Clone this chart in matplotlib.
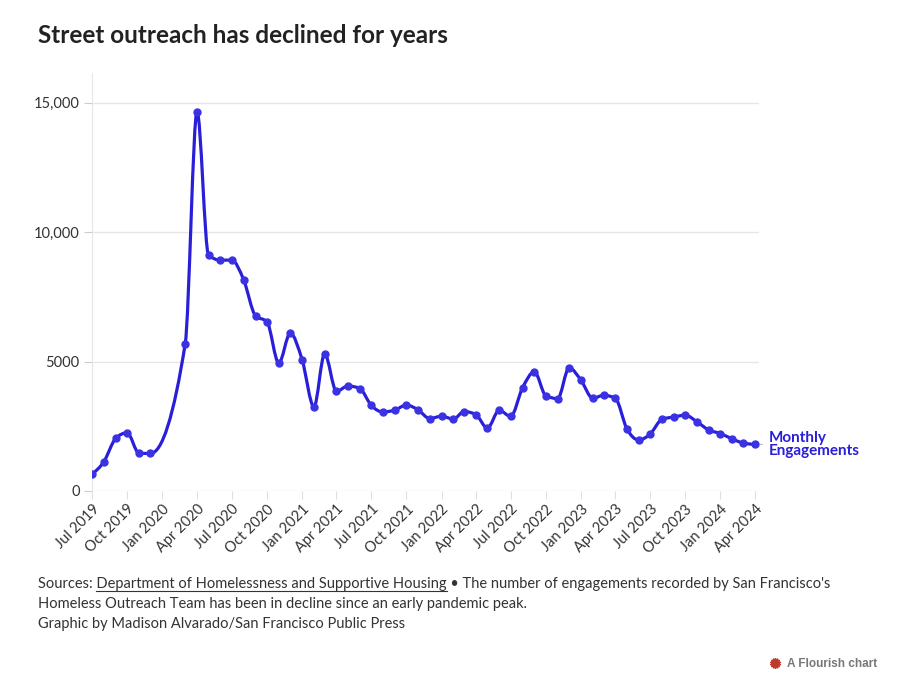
import matplotlib
matplotlib.use("Agg")
import matplotlib.pyplot as plt
import matplotlib.dates as mdates
from matplotlib.path import Path
from matplotlib.patches import PathPatch
from matplotlib.lines import Line2D
import numpy as np
import pandas as pd

# データ（月次エンゲージメント数、2020年1・2月は欠測）
months = pd.date_range("2019-07-01", "2024-04-01", freq="MS")
engagements = [
    650, 1130, 2030, 2250, 1460, 1450,
    np.nan, np.nan, 5690, 14660, 9120, 8920, 8920, 8160, 6770, 6540, 4940, 6100,
    5070, 3250, 5300, 3850, 4060, 3960, 3310, 3050, 3130, 3320, 3130, 2800,
    2890, 2780, 3070, 2950, 2430, 3120, 2880, 3990, 4610, 3680, 3570, 4760,
    4280, 3580, 3700, 3580, 2410, 1970, 2200, 2770, 2860, 2930, 2670, 2360,
    2220, 2010, 1850, 1800,
]
y_ticks = [0, 5000, 10000, 15000]
y_tick_labels = ["0", "5000", "10,000", "15,000"]

title = "Street outreach has declined for years"
series_name = "Monthly\nEngagements"
source_link = "Department of Homelessness and Supportive Housing"
footer_lines = [
    "Sources: " + source_link
    + " \u2022 The number of engagements recorded by San Francisco's",
    "Homeless Outreach Team has been in decline since an early pandemic peak.",
    "Graphic by Madison Alvarado/San Francisco Public Press",
]

LINE_COLOR = "#2a1fd9"
MARKER_COLOR = "#3b32e3"
TEXT_COLOR = "#333333"
FONT = ["Lato", "DejaVu Sans"]
FOOT_SIZE = 10.5


def monotone_path(x, y):
    """d3.curveMonotoneX と同じベジェ曲線パスを作る"""
    n = len(x)
    h = np.diff(x)
    s = np.diff(y) / h
    t = np.zeros(n)
    for i in range(1, n - 1):
        p = (s[i - 1] * h[i] + s[i] * h[i - 1]) / (h[i - 1] + h[i])
        t[i] = (np.sign(s[i - 1]) + np.sign(s[i])) * min(
            abs(s[i - 1]), abs(s[i]), 0.5 * abs(p)
        )
    t[0] = (3 * s[0] - t[1]) / 2
    t[-1] = (3 * s[-1] - t[-2]) / 2
    verts = [(x[0], y[0])]
    codes = [Path.MOVETO]
    for i in range(n - 1):
        dx = h[i] / 3
        verts += [
            (x[i] + dx, y[i] + dx * t[i]),
            (x[i + 1] - dx, y[i + 1] - dx * t[i + 1]),
            (x[i + 1], y[i + 1]),
        ]
        codes += [Path.CURVE4] * 3
    return Path(verts, codes)


plt.rcParams["font.family"] = FONT

fig = plt.figure(figsize=(9, 6.81), dpi=100)
W, H = 900, 681
ax = fig.add_axes([92 / W, 1 - 491 / H, (759 - 92) / W, (491 - 73) / H])

x = mdates.date2num(months)
vals = np.array(engagements, dtype=float)
ok = ~np.isnan(vals)

ax.add_patch(
    PathPatch(
        monotone_path(x[ok], vals[ok]),
        facecolor="none",
        edgecolor=LINE_COLOR,
        lw=2.3,
        capstyle="round",
        joinstyle="round",
        zorder=3,
    )
)
ax.plot(x[ok], vals[ok], ls="none", marker="o", ms=5,
        color=MARKER_COLOR, zorder=4)

# 軸
ax.set_xlim(x[0], x[-1] + 10)
ax.set_ylim(0, 16150)
ax.set_yticks(y_ticks)
ax.set_yticklabels(y_tick_labels)
ax.xaxis.set_major_locator(mdates.MonthLocator(bymonth=[1, 4, 7, 10]))
ax.xaxis.set_major_formatter(mdates.DateFormatter("%b %Y"))
ax.grid(axis="y", color="#e6e6e6", lw=1)
ax.set_axisbelow(True)
for side in ["top", "right", "bottom"]:
    ax.spines[side].set_visible(False)
ax.spines["left"].set_color("#e6e6e6")
ax.tick_params(axis="y", length=6, color="#cccccc", labelsize=10.5,
               labelcolor=TEXT_COLOR, pad=3)
ax.tick_params(axis="x", length=6, color="#e0e0e0", labelsize=10.5,
               labelcolor=TEXT_COLOR, pad=2)
for lbl in ax.get_xticklabels():
    lbl.set_rotation(45)
    lbl.set_ha("right")
    lbl.set_rotation_mode("anchor")

# 系列ラベル
ax.annotate(
    series_name, xy=(x[-1], vals[-1]), xytext=(10, 0),
    textcoords="offset points", va="center", ha="left",
    fontsize=11, fontweight="bold", color=LINE_COLOR, linespacing=0.95,
    annotation_clip=False,
    arrowprops=dict(arrowstyle="-", color="#aaaaaa", lw=0.8,
                    shrinkA=3, shrinkB=4, relpos=(0, 0.5)),
)

# タイトル
fig.text(38 / W, 1 - 43 / H, title, fontsize=17.5, fontweight="bold",
         color="#222222", va="baseline", ha="left")

# 脚注
base = [588, 608, 628]
for line, yb in zip(footer_lines, base):
    fig.text(38 / W, 1 - yb / H, line, fontsize=FOOT_SIZE, color=TEXT_COLOR,
             va="baseline", ha="left")

# ソースリンクに下線
fig.canvas.draw()
rend = fig.canvas.get_renderer()


def text_width(s):
    t = fig.text(0, 0, s, fontsize=FOOT_SIZE)
    w = t.get_window_extent(rend).width
    t.remove()
    return w


prefix = "Sources: " + source_link
x_end = 38 + text_width(prefix)
x_start = x_end - text_width(source_link)
fig.add_artist(Line2D([x_start / W, x_end / W], [1 - 591 / H, 1 - 591 / H],
                      color=TEXT_COLOR, lw=0.8))

# Flourish ロゴ
fig.text(877 / W, 1 - 667 / H, "A Flourish chart", fontsize=8.5,
         fontweight="bold", color="#777777", ha="right", va="baseline",
         family="Liberation Sans")
fig.add_artist(Line2D([775 / W], [1 - 663 / H], marker=(14, 1, 0), ms=7.5,
                      color="#c0392b", mec="#c0392b"))

fig.savefig("out.png", dpi=100)
